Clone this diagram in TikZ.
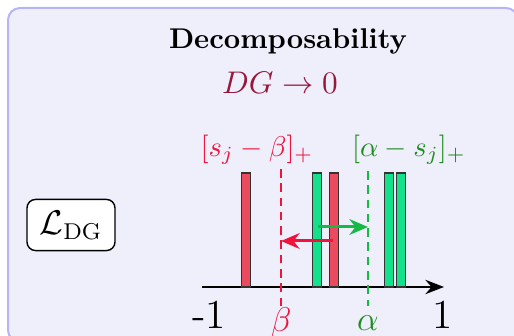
\documentclass[tikz,border=0pt]{standalone}
\usepackage{amsmath,amssymb}
\usepackage{tikz}
\usetikzlibrary{arrows.meta,positioning}

\definecolor{panelfill}{RGB}{239,239,252}
\definecolor{paneldraw}{RGB}{180,180,250}
\definecolor{barred}{RGB}{235,75,95}
\definecolor{bargreen}{RGB}{20,225,140}
\definecolor{linered}{RGB}{240,20,60}
\definecolor{linegreen}{RGB}{20,185,70}
\definecolor{labgreen}{RGB}{30,140,30}
\definecolor{dgred}{RGB}{150,25,60}

\begin{document}
\begin{tikzpicture}[x=0.35pt,y=0.35pt,
 thr/.style={densely dashed,line width=0.55pt},
 push/.style={line width=1.05pt,-{Stealth[length=6.5pt,width=5.5pt]}},
 lab/.style={font=\normalsize,inner sep=1pt}]
\useasboundingbox (0,0) rectangle (514,336);
\begin{scope}
\clip (0,0) rectangle (514,336);
\draw[fill=panelfill,draw=paneldraw,line width=0.7pt,rounded corners=4.2pt]
 (8,-6) rectangle (518,328);
\end{scope}
\node[font=\bfseries] (title) at (288,295) {Decomposability};
\node[text=dgred,font=\fontsize{11}{13}\selectfont] (goal) at (280,253) {$DG\to 0$};
\node[draw=black,fill=white,rounded corners=3pt,minimum width=30.8pt,
 minimum height=17.9pt,inner sep=1pt,line width=0.5pt] (loss) at (71,111)
 {\large$\mathcal{L}_{\mathrm{DG}}$};
% axis
\coordinate (xl) at (202,49);
\coordinate (xr) at (444,49);
\draw[line width=0.8pt,-{Stealth[length=6.5pt,width=5pt]}] (xl)--(xr);
\node[lab,font=\Large] (m1) at (209,21) {-1};
\node[lab,font=\Large] (p1) at (443,21) {1};
% scores
\foreach \x in {246,334}
 \fill[barred] (\x-4.3,49) rectangle (\x+4.3,163);
\foreach \x in {317,389,401}
 \fill[bargreen] (\x-4.3,49) rectangle (\x+4.3,163);
\foreach \x in {246,334,317,389,401}
 \draw[black!80,line width=0.5pt] (\x-4.3,49) rectangle (\x+4.3,163);
% thresholds
\coordinate (btop) at (281,167);
\coordinate (bbot) at (281,29);
\coordinate (atop) at (368,165);
\coordinate (abot) at (368,30);
\draw[thr,linered] (btop)--(bbot);
\draw[thr,linegreen] (atop)--(abot);
\node[lab,text=linered,font=\large] (beta) at (281,13) {$\beta$};
\node[lab,text=labgreen,font=\large] (alpha) at (368,13) {$\alpha$};
\node[lab,text=linered] (rl) at (257,186) {$[s_j-\beta]_+$};
\node[lab,text=labgreen] (gl) at (409,186) {$[\alpha-s_j]_+$};
% pushes
\coordinate (gs) at (318,109);
\coordinate (ge) at (368,109);
\coordinate (rs) at (333,95);
\coordinate (re) at (281,95);
\draw[push,linegreen] (gs)--(ge);
\draw[push,linered] (rs)--(re);
\end{tikzpicture}
\end{document}
